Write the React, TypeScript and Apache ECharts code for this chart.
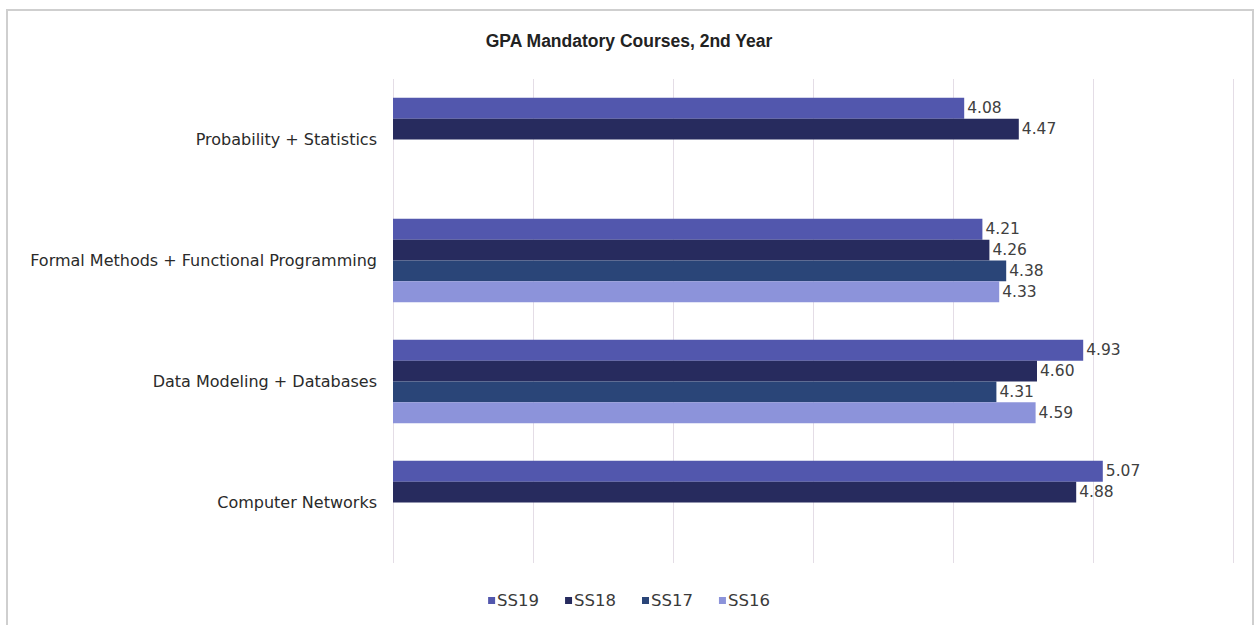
import React, { useEffect, useRef } from "react";
import * as echarts from "echarts";

const categories = [
  "Probability + Statistics",
  "Formal Methods + Functional Programming",
  "Data Modeling + Databases",
  "Computer Networks",
];
const seriesNames = ["SS19", "SS18", "SS17", "SS16"];
const ss19 = [4.08, 4.21, 4.93, 5.07];
const ss18 = [4.47, 4.26, 4.6, 4.88];
const ss17 = [null, 4.38, 4.31, null];
const ss16 = [null, 4.33, 4.59, null];
const colors = ["#5257ad", "#272b5e", "#2a4578", "#8c93da"];

const FONT = "DejaVu Sans, Verdana, sans-serif";

export default function App() {
  const ref = useRef<HTMLDivElement>(null);
  useEffect(() => {
    if (!ref.current) return;
    const chart = echarts.init(ref.current, null, { renderer: "svg" });
    const values = [ss19, ss18, ss17, ss16];
    chart.setOption({
      animation: false,
      title: {
        text: "GPA Mandatory Courses, 2nd Year",
        left: "center",
        top: 27,
        textStyle: {
          fontFamily: "Liberation Sans, Arial, sans-serif",
          fontSize: 17.5,
          fontWeight: "bold",
          color: "#222",
        },
      },
      legend: {
        data: seriesNames,
        bottom: 11,
        left: "center",
        itemWidth: 7,
        itemHeight: 7,
        itemGap: 26,
        icon: "rect",
        textStyle: {
          fontFamily: FONT,
          fontSize: 16.5,
          color: "#3a3a3a",
          padding: [0, 0, 0, -3],
        },
      },
      grid: { left: 393, right: 25, top: 79, height: 484, containLabel: false },
      xAxis: {
        type: "value",
        min: 0,
        max: 6,
        interval: 1,
        axisLabel: { show: false },
        axisLine: { show: false },
        axisTick: { show: false },
        splitLine: { lineStyle: { color: "#e4dde6", width: 1 } },
      },
      yAxis: {
        type: "category",
        data: categories,
        inverse: true,
        axisLine: { show: false },
        axisTick: { show: false },
        axisLabel: {
          margin: 16,
          fontFamily: FONT,
          fontSize: 16,
          color: "#2a2a2a",
        },
      },
      series: seriesNames.map((name, i) => ({
        name,
        type: "bar",
        data: values[i],
        barGap: "0%",
        barCategoryGap: "31%",
        itemStyle: { color: colors[i] },
        label: {
          show: true,
          position: "right",
          distance: 3,
          formatter: (p: any) => Number(p.value).toFixed(2),
          fontFamily: FONT,
          fontSize: 15.5,
          color: "#404040",
        },
      })),
    });
    return () => chart.dispose();
  }, []);
  return (
    <div
      style={{
        position: "absolute",
        left: 6,
        top: 9,
        width: 1248,
        height: 640,
        border: "2px solid #cfcfcf",
        background: "#fff",
        boxSizing: "border-box",
        overflow: "hidden",
      }}
    >
      <div ref={ref} style={{ position: "absolute", left: -8, top: -11, width: 1258, height: 625 }} />
    </div>
  );
}
